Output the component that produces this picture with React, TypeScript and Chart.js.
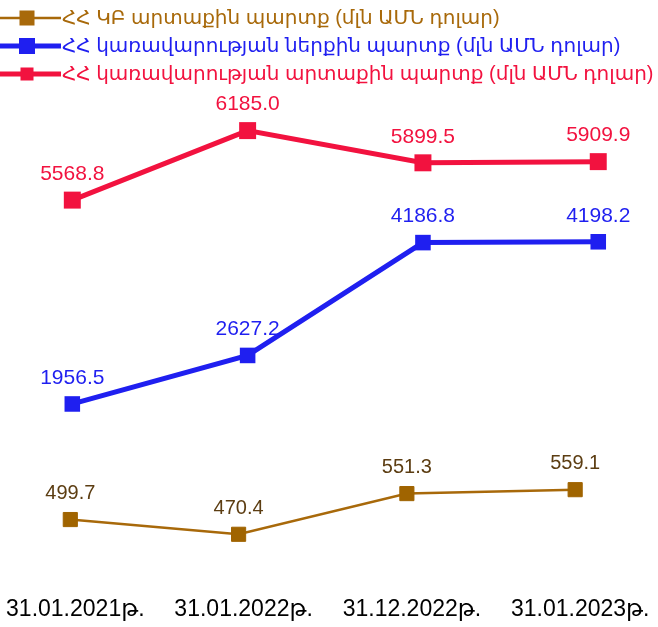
import React, { useEffect, useRef } from "react";
import { Chart, registerables } from "chart.js";

Chart.register(...registerables);

const categories = ["31.01.2021թ.", "31.01.2022թ.", "31.12.2022թ.", "31.01.2023թ."];
const cbExternalDebt = [499.7, 470.4, 551.3, 559.1];
const govDomesticDebt = [1956.5, 2627.2, 4186.8, 4198.2];
const govExternalDebt = [5568.8, 6185.0, 5899.5, 5909.9];
const seriesNames = [
  "ՀՀ ԿԲ արտաքին պարտք (մլն ԱՄՆ դոլար)",
  "ՀՀ կառավարության ներքին պարտք (մլն ԱՄՆ դոլար)",
  "ՀՀ կառավարության արտաքին պարտք (մլն ԱՄՆ դոլար)",
];

const FONT = "'Liberation Sans', Arial, 'DejaVu Sans', sans-serif";
const BROWN = "#a8690a";
const BROWN_LABEL = "#5c3d12";
const BLUE = "#1f1ff0";
const RED = "#f2123f";

const legendItems = [
  { name: seriesNames[0], line: BROWN, text: BROWN, lw: 2.5, sq: 15 },
  { name: seriesNames[1], line: BLUE, text: BLUE, lw: 5, sq: 16 },
  { name: seriesNames[2], line: RED, text: RED, lw: 5, sq: 13 },
];

const overlayPlugin = {
  id: "overlay",
  afterDatasetsDraw(chart: any) {
    const ctx = chart.ctx;
    ctx.save();
    const labelColors = [BROWN_LABEL, BLUE, RED];
    chart.data.datasets.forEach((ds: any, di: number) => {
      const meta = chart.getDatasetMeta(di);
      ctx.font = `${di === 0 ? 20 : 21}px ${FONT}`;
      ctx.fillStyle = labelColors[di];
      ctx.textAlign = "center";
      ctx.textBaseline = "middle";
      meta.data.forEach((pt: any, i: number) => {
        const raw = ds.data[i];
        const v = typeof raw === "number" ? raw : raw.y;
        ctx.fillText(v.toFixed(1), pt.x, pt.y - 26);
      });
    });
    legendItems.forEach((it, i) => {
      const y = 18 + i * 28;
      ctx.strokeStyle = it.line;
      ctx.lineWidth = it.lw;
      ctx.beginPath();
      ctx.moveTo(0, y);
      ctx.lineTo(61, y);
      ctx.stroke();
      ctx.fillStyle = it.line;
      ctx.fillRect(27 - it.sq / 2, y - it.sq / 2, it.sq, it.sq);
      ctx.font = `20px ${FONT}`;
      ctx.fillStyle = it.text;
      ctx.textAlign = "left";
      ctx.textBaseline = "middle";
      ctx.fillText(it.name, 62, y);
    });
    ctx.restore();
  },
};

export default function App() {
  const ref = useRef<HTMLCanvasElement | null>(null);
  useEffect(() => {
    document.body.style.margin = "0";
    const canvas = ref.current!;
    const chart = new Chart(canvas, {
      type: "line",
      data: {
        datasets: [
          {
            label: seriesNames[0],
            data: cbExternalDebt.map((v, i) => ({ x: i, y: v })),
            xAxisID: "x3",
            yAxisID: "yCb",
            borderColor: BROWN,
            backgroundColor: "#a06400",
            borderWidth: 2.5,
            pointStyle: "rect",
            pointRadius: 10,
            pointBorderWidth: 1,
            pointBorderColor: "#a06400",
            tension: 0,
            clip: false,
          },
          {
            label: seriesNames[1],
            data: govDomesticDebt.map((v, i) => ({ x: i, y: v })),
            xAxisID: "x2",
            yAxisID: "yDom",
            borderColor: BLUE,
            backgroundColor: BLUE,
            borderWidth: 5,
            pointStyle: "rect",
            pointRadius: 11,
            pointBorderWidth: 0,
            tension: 0,
            clip: false,
          },
          {
            label: seriesNames[2],
            data: govExternalDebt.map((v, i) => ({ x: i, y: v })),
            xAxisID: "x2",
            yAxisID: "yExt",
            borderColor: RED,
            backgroundColor: RED,
            borderWidth: 5,
            pointStyle: "rect",
            pointRadius: 12,
            pointBorderWidth: 0,
            tension: 0,
            clip: false,
          },
        ],
      },
      options: {
        responsive: false,
        animation: false,
        layout: { padding: { top: 90, bottom: 1, left: 60, right: 48 } },
        plugins: { legend: { display: false }, tooltip: { enabled: false } },
        scales: {
          x: {
            type: "linear",
            min: -0.0909,
            max: 3.177,
            grid: { display: false, drawTicks: false },
            border: { display: false },
            ticks: {
              color: "#000",
              font: { family: FONT, size: 23 },
              padding: 3,
              maxRotation: 0,
              autoSkip: false,
              stepSize: 1,
              includeBounds: false,
              callback: (v: any) =>
                Number.isInteger(v) && categories[v] !== undefined ? categories[v] : "",
            },
          },
          x3: { type: "linear", display: false, min: -0.0612, max: 3.207 },
          x2: { type: "linear", display: false, min: -0.0702, max: 3.067 },
          yCb: { type: "linear", display: false, min: 354.8, max: 1354 },
          yDom: { type: "linear", display: false, min: -648, max: 6296 },
          yExt: { type: "linear", display: false, min: 2091, max: 6545 },
        },
      },
      plugins: [overlayPlugin],
    });
    return () => chart.destroy();
  }, []);
  return (
    <div style={{ width: 658, height: 627, background: "#fff" }}>
      <canvas ref={ref} width={658} height={627} style={{ display: "block" }} />
    </div>
  );
}
